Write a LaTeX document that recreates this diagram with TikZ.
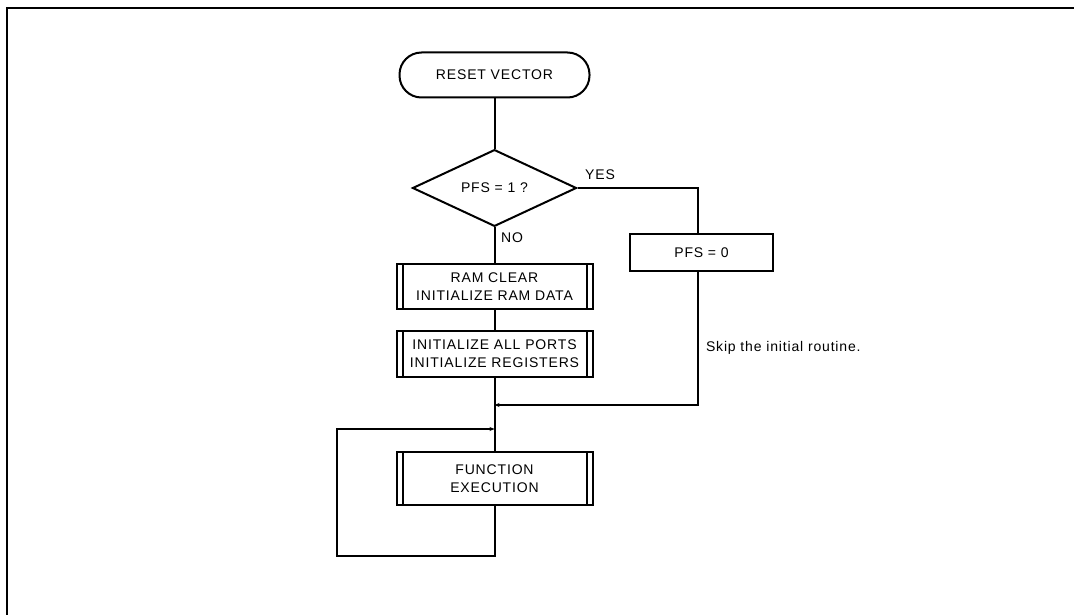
\documentclass[tikz,border=0pt]{standalone}
\usepackage{fontspec}
\setmainfont{Liberation Sans}[LetterSpace=6]
\usetikzlibrary{shapes.geometric,arrows.meta}
\begin{document}
\begin{tikzpicture}[x=1pt,y=-1pt,
  line width=2pt,
  txt/.style={font=\fontsize{14}{18}\selectfont, inner sep=0pt},
  box/.style={txt, draw, align=center, minimum width=196pt},
  arr/.style={-{Stealth[length=5pt,width=4pt]}},
]
\useasboundingbox (0,0) rectangle (1074,615);
% frame
\draw (1074,8) -- (6.5,8) -- (6.5,615);

% nodes
\node[txt, draw, rounded corners=22pt, minimum width=190pt, minimum height=45pt] (reset) at (494.5,75) {RESET VECTOR};
\node[txt, draw, diamond, minimum width=164pt, minimum height=75pt] (dec) at (494.5,188) {PFS = 1 ?};
\node[box, minimum width=143pt, minimum height=37pt] (pfs0) at (701.5,252.5) {PFS = 0};
\node[box, minimum height=45pt] (ram) at (494.5,286.5) {RAM CLEAR\\INITIALIZE RAM DATA};
\node[box, minimum height=46pt] (init) at (494.5,354) {INITIALIZE ALL PORTS\\INITIALIZE REGISTERS};
\node[box, minimum height=53pt] (func) at (494.5,478.5) {FUNCTION\\EXECUTION};

% predefined-process side bars
\foreach \n in {ram,init,func}{
  \draw ([xshift=7pt]\n.north west) -- ([xshift=7pt]\n.south west);
  \draw ([xshift=-7pt]\n.north east) -- ([xshift=-7pt]\n.south east);
}

% labels
\node[txt] (yes) at (600,175) {YES};
\node[txt] (no) at (512,238) {NO};
\node[txt, anchor=west] (skip) at (705,348) {Skip the initial routine.};

% junction coordinates
\coordinate (j1) at (494.5,405);
\coordinate (j2) at (494.5,429);
\coordinate (lb) at (337,556);
\coordinate (rt) at (698,188);

% connectors
\draw (reset.south) -- (dec.north);
\draw (dec.east) -- (rt) -- (rt |- pfs0.north);
\draw (dec.south) -- (ram.north);
\draw (ram.south) -- (init.north);
\draw (init.south) -- (func.north);
\draw[arr] (rt |- pfs0.south) |- (j1);
\draw[arr] (func.south) |- (lb) |- (j2);
\end{tikzpicture}
\end{document}
